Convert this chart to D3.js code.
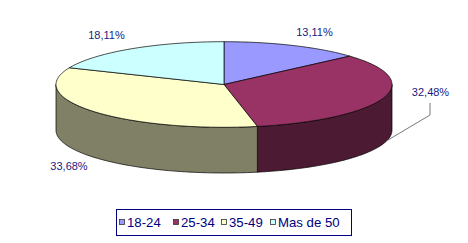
<!DOCTYPE html>
<html>
<head>
<meta charset="utf-8">
<script src="https://cdn.jsdelivr.net/npm/d3@7"></script>
<style>
  body { margin: 0; background: #fff; }
  svg { display: block; font-family: Arial, "Liberation Sans", sans-serif; }
</style>
</head>
<body>
<svg id="chart" width="468" height="243"></svg>
<script>
// data
const categories = ['18-24', '25-34', '35-49', 'Mas de 50'];
const values = [13.11, 32.48, 33.68, 18.11];
const labels = ['13,11%', '32,48%', '33,68%', '18,11%'];
const topColors = ['#9999FF', '#993366', '#FFFFCC', '#CCFFFF'];
const sideColors = ['#4D4D80', '#4D1A33', '#808066', '#668080'];

const width = 468, height = 243;
const cx = 224, cy = 84.5, rx = 168, ry = 42.8, depth = 45.7;

const svg = d3.select('#chart');

// ellipse projection, angle measured clockwise from 12 o'clock
const xs = d3.scaleLinear().domain([-1, 1]).range([cx - rx, cx + rx]);
const ys = d3.scaleLinear().domain([-1, 1]).range([cy - ry, cy + ry]);
const pt = (a, dy = 0) => [xs(Math.sin(a)), ys(-Math.cos(a)) + dy];

const pie = d3.pie().sort(null).value(d => d);
const arcs = pie(values);

function arcPoints(a0, a1, dy) {
  const n = Math.max(2, Math.ceil((a1 - a0) / 0.02));
  return d3.range(n + 1).map(i => pt(a0 + (a1 - a0) * i / n, dy));
}

const line = d3.line();

// side walls (front half only: angles between PI/2 and 3PI/2)
const gSide = svg.append('g');
arcs.forEach((d, i) => {
  const a0 = Math.max(d.startAngle, Math.PI / 2);
  const a1 = Math.min(d.endAngle, Math.PI * 1.5);
  if (a1 <= a0) return;
  const pts = arcPoints(a0, a1, 0).concat(arcPoints(a0, a1, depth).reverse());
  gSide.append('path')
    .attr('d', line(pts) + 'Z')
    .attr('fill', sideColors[i])
    .attr('stroke', '#000')
    .attr('stroke-width', 0.7)
    .attr('stroke-linejoin', 'round');
});

// top faces
const gTop = svg.append('g');
arcs.forEach((d, i) => {
  const pts = [[cx, cy]].concat(arcPoints(d.startAngle, d.endAngle, 0));
  gTop.append('path')
    .attr('d', line(pts) + 'Z')
    .attr('fill', topColors[i])
    .attr('stroke', '#000')
    .attr('stroke-width', 0.7)
    .attr('stroke-linejoin', 'round');
});

// labels
const labelPos = [[314.5, 36], [430.5, 96], [69, 169.5], [106.5, 38.5]];
svg.append('g').selectAll('text')
  .data(labels)
  .join('text')
  .attr('x', (d, i) => labelPos[i][0])
  .attr('y', (d, i) => labelPos[i][1])
  .attr('text-anchor', 'middle')
  .attr('font-size', 11)
  .attr('fill', '#1A1A80')
  .text(d => d);

// leader line for 32,48%
svg.append('path')
  .attr('d', line([[430, 103], [430, 115], [388, 140]]))
  .attr('fill', 'none')
  .attr('stroke', '#555')
  .attr('stroke-width', 0.8);

// legend
const legend = svg.append('g');
legend.append('rect')
  .attr('x', 116.5).attr('y', 209.5)
  .attr('width', 235).attr('height', 26)
  .attr('fill', '#fff')
  .attr('stroke', '#000080')
  .attr('stroke-width', 1);

const itemX = [119, 173, 221, 270];
const items = legend.selectAll('g.item')
  .data(categories)
  .join('g')
  .attr('class', 'item')
  .attr('transform', (d, i) => `translate(${itemX[i]},0)`);
items.append('rect')
  .attr('x', 0.5).attr('y', 219.5)
  .attr('width', 5).attr('height', 5)
  .attr('fill', (d, i) => topColors[i])
  .attr('stroke', '#333')
  .attr('stroke-width', 0.8);
items.append('text')
  .attr('x', 8).attr('y', 227)
  .attr('font-size', 13.2)
  .attr('fill', '#000080')
  .text(d => d);
</script>
</body>
</html>
